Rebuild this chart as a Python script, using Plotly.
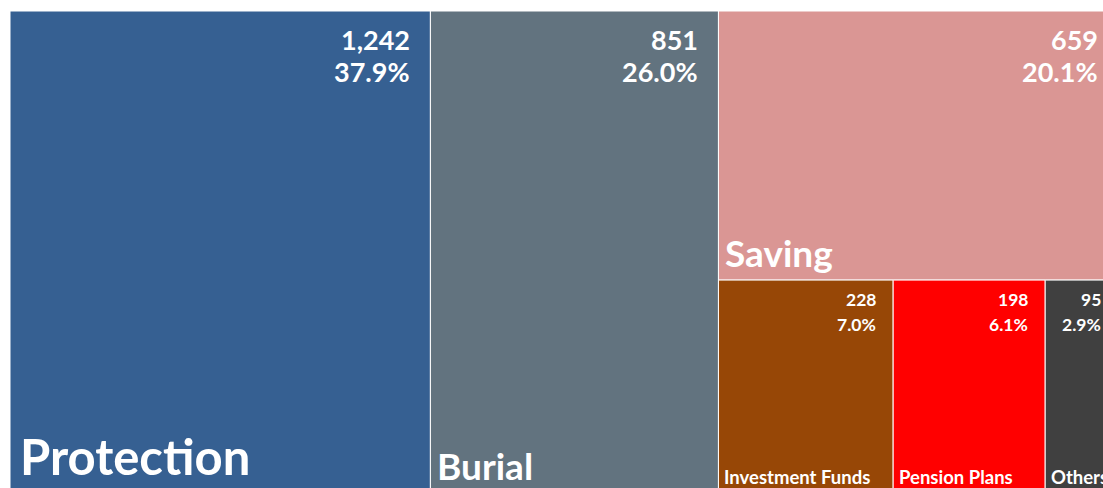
import plotly.graph_objects as go

# ---------------- data ----------------
categories = ["Protection", "Burial", "Saving", "Investment Funds", "Pension Plans", "Others"]
values = [1242, 851, 659, 228, 198.4, 95]

# ---------------- styles ----------------
colors = ["#366092", "#62737F", "#DA9694", "#974706", "#FF0000", "#404040"]
label_sizes = [49, 37, 37, 18.5, 18.5, 18.5]
value_sizes = [27, 27, 27, 17.5, 17.5, 17.5]
FONT = "Lato"

W, H = 1103, 488
ML, MT = 10, 11
FULL_W, FULL_H = 1108, 482            # full treemap extent in px (partly cropped)
PLOT_W, PLOT_H = W - ML, H - MT

total = sum(values)

# ---------------- layout computation (slice & dice) ----------------
rects = []  # (x0, x1, y0, y1) x in value units, y as fraction (0 bottom, 1 top)
x = 0.0
for v in values[:2]:
    rects.append((x, x + v, 0.0, 1.0))
    x += v
group = values[2:]
gtot = sum(group)
top_h = group[0] / gtot
rects.append((x, x + gtot, 1 - top_h, 1.0))
bottom = group[1:]
btot = sum(bottom)
bx = x
for v in bottom:
    w = v / btot * gtot
    rects.append((bx, bx + w, 0.0, 1 - top_h))
    bx += w

xr = [0, total * PLOT_W / FULL_W]
yr = [1 - PLOT_H / FULL_H, 1]


def px(xv):
    return (xv - xr[0]) / (xr[1] - xr[0])


def py(yv):
    return (yv - yr[0]) / (yr[1] - yr[0])


fig = go.Figure()
fig.add_trace(go.Bar(
    x=[r[0] for r in rects],
    width=[r[1] - r[0] for r in rects],
    base=[r[2] for r in rects],
    y=[r[3] - r[2] for r in rects],
    offset=0,
    marker=dict(color=colors, line=dict(color="white", width=1)),
    hoverinfo="skip",
    showlegend=False,
))

ann = []
for i, (cat, v, r) in enumerate(zip(categories, values, rects)):
    big = value_sizes[i] > 20
    vfs = value_sizes[i]
    pct = f"{v / total * 100:.1f}%"
    off1, off2, xs = (28, 60, -18) if big else (19, 44, -15)
    for txt, off in ((f"{v:,.0f}", off1), (pct, off2)):
        ann.append(dict(
            x=px(r[1]), y=py(r[3]), xref="paper", yref="paper",
            text=txt, showarrow=False, xanchor="right", yanchor="middle",
            xshift=xs, yshift=-off,
            font=dict(family=FONT, size=vfs, color="white", weight="bold"),
        ))
    lfs = label_sizes[i]
    lift = 37 if lfs > 40 else (28 if lfs > 20 else 16)
    lx = 8 if lfs > 40 else (5 if lfs > 20 else 4)
    ann.append(dict(
        x=px(r[0]), y=py(r[2]), xref="paper", yref="paper",
        text=cat, showarrow=False, xanchor="left", yanchor="middle",
        xshift=lx, yshift=lift,
        font=dict(family=FONT, size=lfs, color="white", weight="bold"),
    ))

fig.update_layout(
    width=W, height=H,
    margin=dict(l=ML, r=0, t=MT, b=0, pad=0),
    paper_bgcolor="white", plot_bgcolor="white",
    xaxis=dict(range=xr, visible=False, showgrid=False, zeroline=False, fixedrange=True),
    yaxis=dict(range=yr, visible=False, showgrid=False, zeroline=False, fixedrange=True),
    barmode="overlay",
    annotations=ann,
)

fig.write_html(
    "out.html",
    config={"displayModeBar": False},
    post_script="document.body.style.margin='0';document.body.style.overflow='hidden';",
)
